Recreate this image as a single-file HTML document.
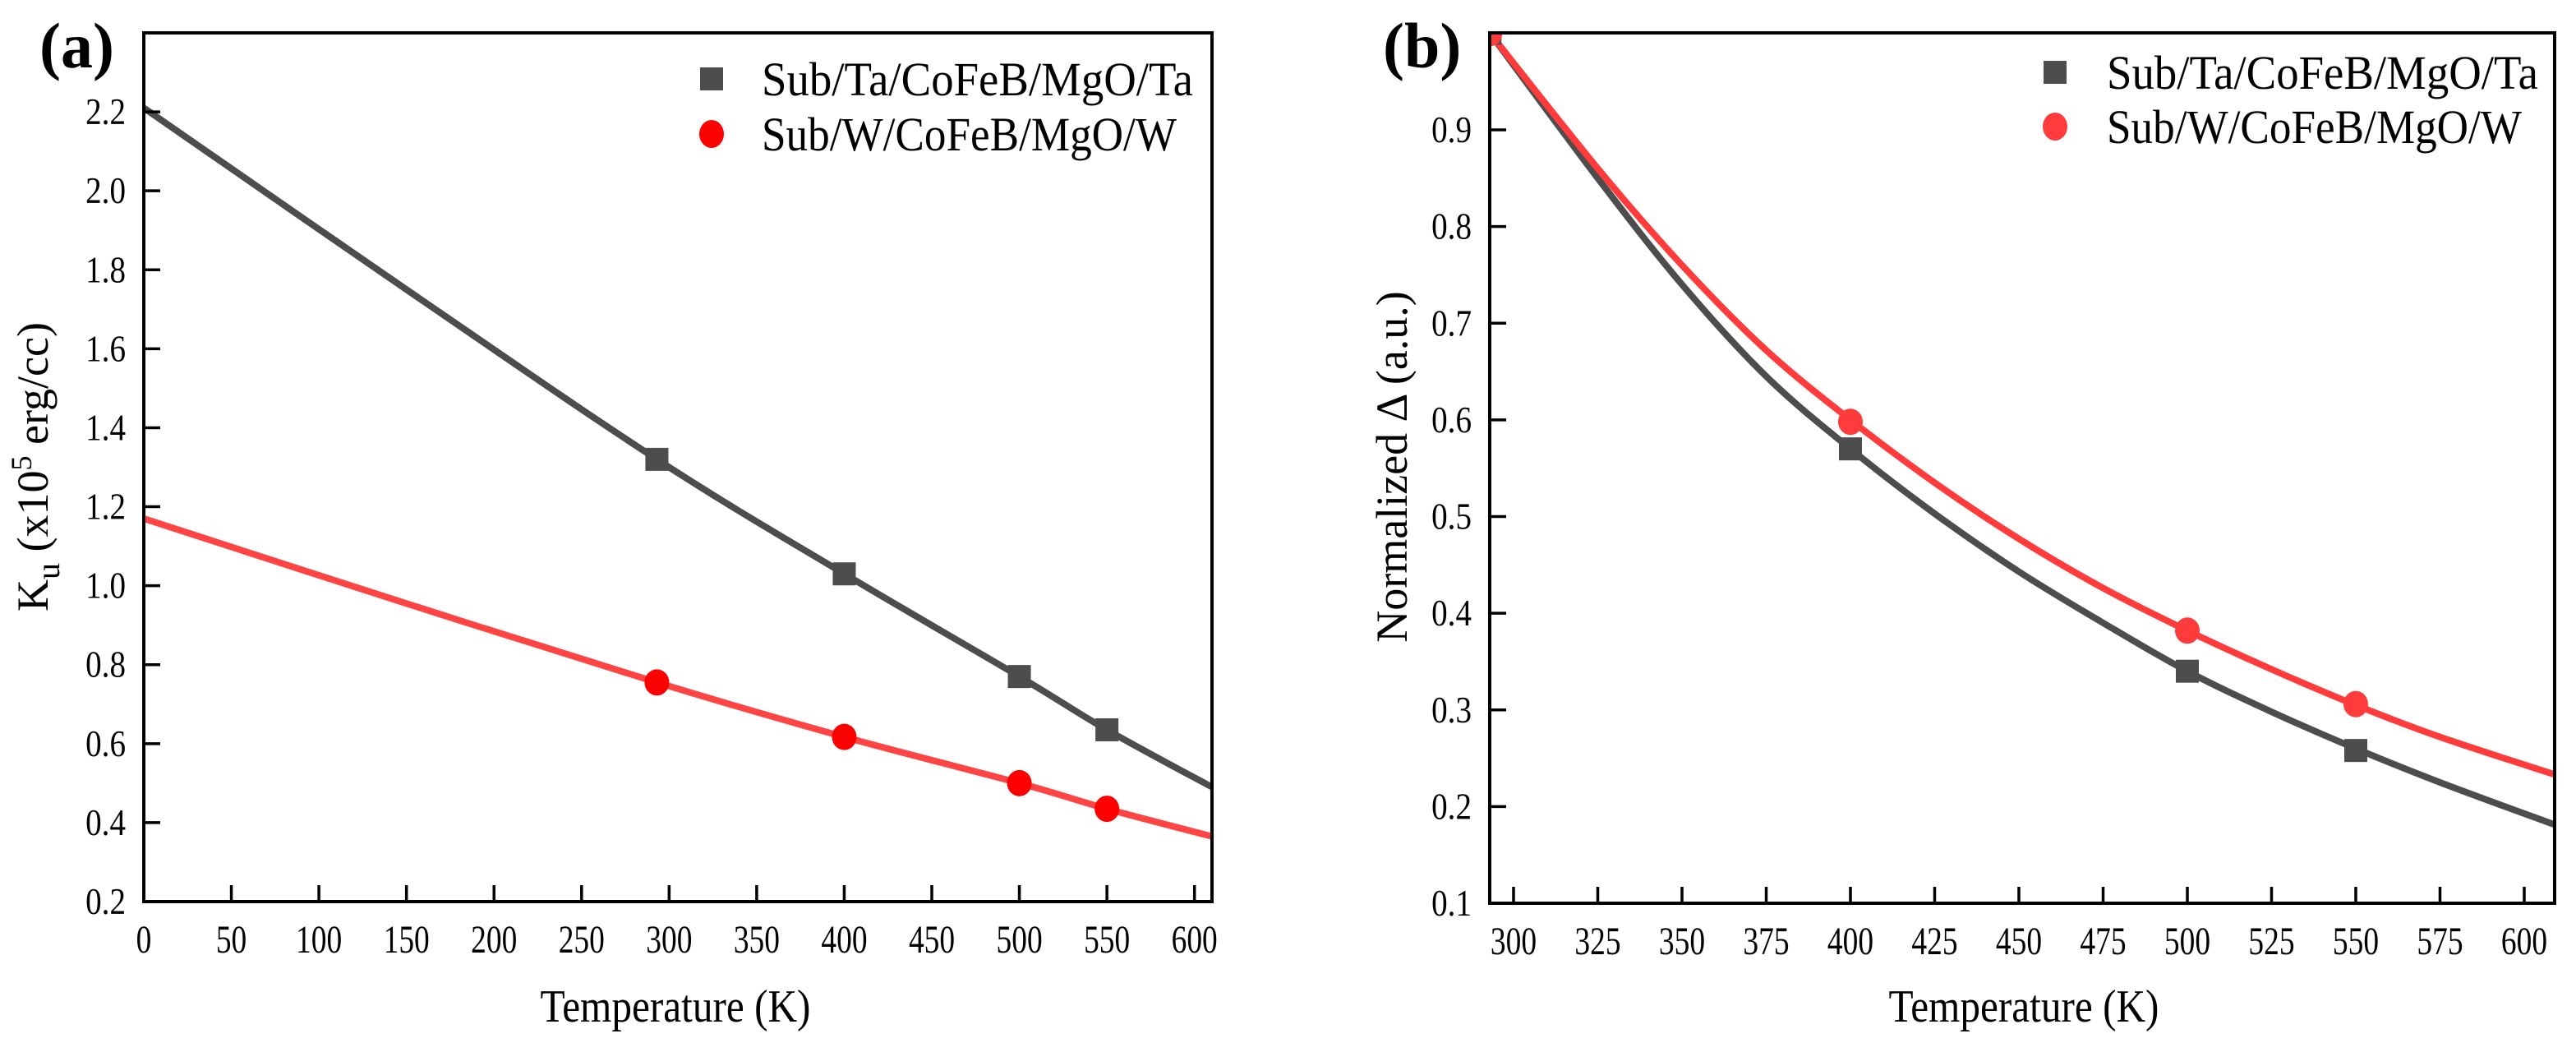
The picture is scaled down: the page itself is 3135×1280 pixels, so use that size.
<!DOCTYPE html>
<html><head><meta charset="utf-8">
<style>
html,body{margin:0;padding:0;background:#fff;}
svg, svg text, svg tspan{font-family:"Liberation Serif","Noto Serif CJK SC","DejaVu Serif",serif;}
svg{display:block;}
</style></head>
<body>
<svg id="fig" width="3135" height="1280" viewBox="0 0 3135 1280" xmlns="http://www.w3.org/2000/svg">
<g id="pa"></g>
<g id="pb"></g>
</svg>
<script>
// Panel (a) data
const aTicksX = [0,50,100,150,200,250,300,350,400,450,500,550,600];
const aTicksY = [0.2,0.4,0.6,0.8,1.0,1.2,1.4,1.6,1.8,2.0,2.2];
const aTaFitT = [0, 150, 293, 400, 500, 550, 610];
const aTaFitK = [2.21, 1.75, 1.32, 1.03, 0.77, 0.635, 0.49];
const aWFitT = [0, 150, 293, 400, 500, 550, 610];
const aWFitK = [1.17, 0.955, 0.755, 0.617, 0.50, 0.435, 0.365];
const aPtT = [293, 400, 500, 550];
const aTaK = [1.32, 1.03, 0.77, 0.635];
const aWK = [0.755, 0.617, 0.50, 0.435];
// Panel (b) data
const bTicksX = [300,325,350,375,400,425,450,475,500,525,550,575,600];
const bTicksY = [0.1,0.2,0.3,0.4,0.5,0.6,0.7,0.8,0.9];
const bCurveT = [293,325,350,375,400,425,450,475,500,525,550,575,610];
const bTaCurve = [1.0,0.85,0.74,0.645,0.57,0.503,0.443,0.39,0.34,0.298,0.26,0.225,0.18];
const bWCurve = [1.0,0.86,0.76,0.672,0.60,0.535,0.477,0.426,0.382,0.342,0.305,0.272,0.232];
const bPtT = [293, 400, 500, 550];
const bTaD = [1.0, 0.57, 0.34, 0.258];
const bWD = [1.0, 0.598, 0.382, 0.306];

const NS = "http://www.w3.org/2000/svg";
function mk(parent, tag, attrs, text){
  const e = document.createElementNS(NS, tag);
  for (const k in attrs) e.setAttribute(k, attrs[k]);
  if (tag === "text") e.style.fontFamily = '"Liberation Serif","Noto Serif CJK SC","DejaVu Serif",serif';
  if (text !== undefined) e.textContent = text;
  parent.appendChild(e);
  return e;
}
function lin(d0,d1,r0,r1){ return v => r0 + (v-d0)/(d1-d0)*(r1-r0); }

function smoothPath(xs, ys){
  let d = "M"+xs[0]+","+ys[0];
  for (let i=0;i<xs.length-1;i++){
    const x0=xs[Math.max(i-1,0)], y0=ys[Math.max(i-1,0)];
    const x1=xs[i], y1=ys[i], x2=xs[i+1], y2=ys[i+1];
    const x3=xs[Math.min(i+2,xs.length-1)], y3=ys[Math.min(i+2,ys.length-1)];
    d += " C"+(x1+(x2-x0)/6)+","+(y1+(y2-y0)/6)+" "+(x2-(x3-x1)/6)+","+(y2-(y3-y1)/6)+" "+x2+","+y2;
  }
  return d;
}

function axes(g, L, T, R, B, sx, sy, tx, ty, fmt){
  const frame = mk(g,"rect",{x:L,y:T,width:R-L,height:B-T,fill:"none",stroke:"#000","stroke-width":4});
  
  
  tx.forEach(v=>{
    const x = sx(v);
    const t = mk(g,"line",{x1:x,y1:B,x2:x,y2:B-20,stroke:"#000","stroke-width":3.5});
    
    
    const lb = mk(g,"text",{x:0,y:0,"text-anchor":"middle","font-size":48,transform:"translate("+x+","+(B+62)+") scale(0.78,1)"}, String(v));
    
    
  });
  ty.forEach(v=>{
    const y = sy(v);
    const t = mk(g,"line",{x1:L,y1:y,x2:L+20,y2:y,stroke:"#000","stroke-width":3.5});
    
    
    const lb = mk(g,"text",{x:0,y:0,"text-anchor":"end","font-size":46,transform:"translate("+(L-22)+","+(y+15)+") scale(0.85,1)"}, fmt(v));
    
    
  });
}

function legend(g, mx, tx, y1, y2, c1, c2){
  const sq = mk(g,"rect",{x:mx-14,y:y1-14,width:28,height:28,fill:c1});
  
  
  const t1 = mk(g,"text",{x:tx,y:y1+20,"font-size":58,textLength:525,lengthAdjust:"spacingAndGlyphs"},"Sub/Ta/CoFeB/MgO/Ta");
  
  
  const ci = mk(g,"ellipse",{cx:mx,cy:y2,rx:15,ry:17,fill:c2});
  
  
  const t2 = mk(g,"text",{x:tx,y:y2+20,"font-size":58,textLength:505,lengthAdjust:"spacingAndGlyphs"},"Sub/W/CoFeB/MgO/W");
  
  
}

// ---------- Panel a ----------
(function(){
  const g = document.getElementById('pa');
  const L=175,T=40,R=1475,B=1097;
  const sx = lin(0,610,L,R);
  const sy = lin(0.2,2.4,B,T);
  const clip = mk(g,"clipPath",{id:"ca"});
  mk(clip,"rect",{x:L,y:T,width:R-L,height:B-T});
  const lt = mk(g,"path",{d:smoothPath(aTaFitT.map(sx),aTaFitK.map(sy)),fill:"none",stroke:"#4d4d4d","stroke-width":8,"clip-path":"url(#ca)"});
  
  
  const lw = mk(g,"path",{d:smoothPath(aWFitT.map(sx),aWFitK.map(sy)),fill:"none",stroke:"#ff4444","stroke-width":8,"clip-path":"url(#ca)"});
  
  
  aPtT.forEach((t,i)=>{
    const s = mk(g,"rect",{x:sx(t)-14,y:sy(aTaK[i])-14,width:28,height:28,fill:"#4d4d4d"});
    
    
    const c = mk(g,"ellipse",{cx:sx(t),cy:sy(aWK[i]),rx:15,ry:16,fill:"#ff0000"});
    
    
  });
  axes(g,L,T,R,B,sx,sy,aTicksX,aTicksY,v=>v.toFixed(1));
  legend(g,866,927,96,163,"#4d4d4d","#ff0000");
  const pl = mk(g,"text",{x:48,y:82,"font-size":78,"font-weight":"bold"},"(a)");
  
  
  const xt = mk(g,"text",{x:0,y:0,"text-anchor":"middle","font-size":56,transform:"translate(822,1243) scale(0.88,1)"},"Temperature (K)");
  
  
  const yt = mk(g,"text",{x:0,y:0,"text-anchor":"middle","font-size":54,transform:"translate(58,568) rotate(-90)"});
  
  
  mk(yt,"tspan",{},"K");
  mk(yt,"tspan",{dy:14,"font-size":40},"u");
  mk(yt,"tspan",{dy:-14}," (x10");
  mk(yt,"tspan",{dy:-20,"font-size":36},"5");
  mk(yt,"tspan",{dy:20}," erg/cc)");
})();

// ---------- Panel b ----------
(function(){
  const g = document.getElementById('pb');
  const L=1813,T=40,R=3109,B=1099;
  const sx = lin(300,600,1842,3072);
  const sy = lin(0.1,0.9,B,158);
  const clip = mk(g,"clipPath",{id:"cb"});
  mk(clip,"rect",{x:L,y:T,width:R-L,height:B-T});
  const xs = bCurveT.map(sx);
  const pt = mk(g,"path",{d:smoothPath(xs,bTaCurve.map(sy)),fill:"none",stroke:"#4d4d4d","stroke-width":8,"clip-path":"url(#cb)"});
  
  
  const pw = mk(g,"path",{d:smoothPath(xs,bWCurve.map(sy)),fill:"none",stroke:"#ff3b3b","stroke-width":8,"clip-path":"url(#cb)"});
  
  
  const pg = mk(g,"g",{"clip-path":"url(#cb)"});
  bPtT.forEach((t,i)=>{
    const s = mk(pg,"rect",{x:sx(t)-14,y:sy(bTaD[i])-14,width:28,height:28,fill:"#4d4d4d"});
    
    
    const c = mk(pg,"ellipse",{cx:sx(t),cy:sy(bWD[i]),rx:15,ry:16,fill:"#ff3b3b"});
    
    
  });
  axes(g,L,T,R,B,sx,sy,bTicksX,bTicksY,v=>v.toFixed(1));
  legend(g,2501,2564,88,154,"#4d4d4d","#ff3b3b");
  const pl = mk(g,"text",{x:1683,y:82,"font-size":78,"font-weight":"bold"},"(b)");
  
  
  const xt = mk(g,"text",{x:0,y:0,"text-anchor":"middle","font-size":56,transform:"translate(2463,1243) scale(0.88,1)"},"Temperature (K)");
  
  
  const yt = mk(g,"text",{x:0,y:0,"text-anchor":"middle","font-size":54,transform:"translate(1712,568) rotate(-90)"},"Normalized \u0394 (a.u.)");
  
  
})();
</script>
</body></html>
